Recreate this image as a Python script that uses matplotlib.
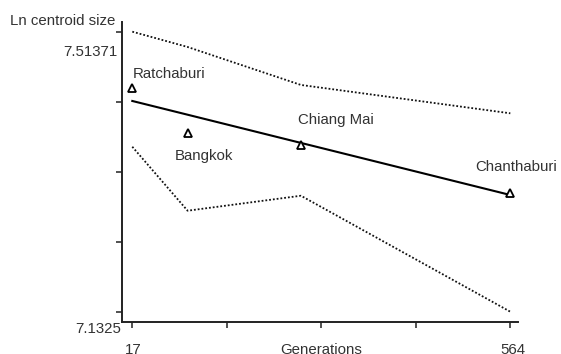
import numpy as np
import matplotlib
matplotlib.use("Agg")
import matplotlib.pyplot as plt

plt.rcParams['font.family'] = ['Liberation Sans', 'DejaVu Sans']

# populations and their generation number / ln centroid size
places = ["Ratchaburi", "Bangkok", "Chiang Mai", "Chanthaburi"]
generations = [17, 97, 261, 564]
ln_csize = [7.4367, 7.3754, 7.3595, 7.2937]

# regression line and confidence band
fit = [7.4194, 7.4007, 7.3623, 7.2914]
upper = [7.51371, 7.4929, 7.4412, 7.4026]
lower = [7.3571, 7.2700, 7.2904, 7.1325]

ymin, ymax = 7.1325, 7.51371
xticks = np.linspace(17, 564, 5)
yticks = np.linspace(ymin, ymax, 5)

# label offsets in pixels (x, y) relative to each point
label_off = [(0, 10), (-12.5, -27), (-2.5, 21), (-35, 22.5)]

fig = plt.figure(figsize=(5.61, 3.54), dpi=100)
ax = fig.add_axes([122/561, 32.5/354, 396/561, 299.8/354])

txt = "#333333"
ax.plot(generations, upper, color="#111111", lw=1.3, ls=(0, (1, 1.1)))
ax.plot(generations, lower, color="#111111", lw=1.3, ls=(0, (1, 1.1)))
ax.plot(generations, fit, color="black", lw=1.5)
ax.plot(generations, ln_csize, ls="none", marker="^", ms=6, mfc="white",
        mec="black", mew=1.3, zorder=5)

for name, gx, gy, off in zip(places, generations, ln_csize, label_off):
    ax.annotate(name, (gx, gy), xytext=off, textcoords="offset pixels",
                ha="left", va="baseline", fontsize=10.8, color=txt)

ax.set_xlim(2.1, 575.1)
ax.set_ylim(7.1192, 7.5273)
ax.set_xticks(xticks)
ax.set_yticks(yticks)
ax.tick_params(direction="out", length=4, width=1.1, color="#222222",
               labelbottom=False, labelleft=False)
for s in ["top", "right"]:
    ax.spines[s].set_visible(False)
for s in ["left", "bottom"]:
    ax.spines[s].set_linewidth(1.4)
    ax.spines[s].set_color("#222222")

# axis end labels, placed like the original
ax.annotate("7.51371", (0, ymax), xycoords=("axes fraction", "data"),
            xytext=(-4, -24), textcoords="offset pixels", ha="right",
            va="baseline", fontsize=10.8, color=txt)
ax.annotate("7.1325", (0, ymin), xycoords=("axes fraction", "data"),
            xytext=(-0.5, -21.6), textcoords="offset pixels", ha="right",
            va="baseline", fontsize=10.8, color=txt)
ax.annotate("17", (xticks[0], 0), xycoords=("data", "axes fraction"),
            xytext=(0.7, -32.5), textcoords="offset pixels", ha="center",
            va="baseline", fontsize=10.8, color=txt)
ax.annotate("564", (xticks[-1], 0), xycoords=("data", "axes fraction"),
            xytext=(2.7, -32.5), textcoords="offset pixels", ha="center",
            va="baseline", fontsize=10.8, color=txt)
ax.annotate("Generations", (xticks[2], 0), xycoords=("data", "axes fraction"),
            xytext=(-0.5, -32.5), textcoords="offset pixels", ha="center",
            va="baseline", fontsize=10.8, color=txt)

fig.text(10.5/561, 1 - 25/354, "Ln centroid size", ha="left", va="baseline",
         fontsize=10.8, color=txt)

fig.savefig("out.png", dpi=100)
